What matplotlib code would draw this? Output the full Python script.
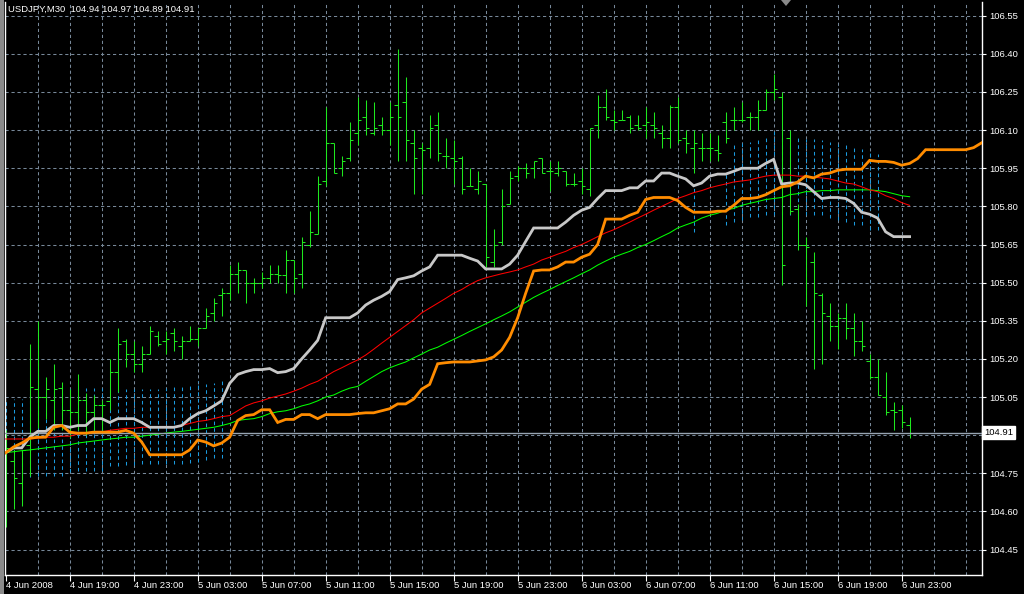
import matplotlib
matplotlib.use('Agg')
import matplotlib.pyplot as plt
from matplotlib.patches import Rectangle, Polygon

plt.rcParams['font.family'] = ['Liberation Sans', 'DejaVu Sans']
plt.rcParams['lines.scale_dashes'] = False

# USDJPY M30 bars, 4 Jun 2008 15:00 .. 6 Jun 2008 23:30
opens = [104.84, 104.80, 104.71, 104.86, 105.08, 105.05, 105.04, 105.085, 105.00, 104.99,
         105.04, 104.99, 105.02, 105.035, 105.15, 105.27, 105.22, 105.18, 105.22, 105.29,
         105.27, 105.30, 105.25, 105.27, 105.28, 105.32, 105.38, 105.45, 105.46, 105.535,
         105.55, 105.50, 105.50, 105.52, 105.535, 105.53, 105.59, 105.535, 105.65, 105.69,
         105.90, 106.05, 105.95, 105.99, 106.09, 106.15, 106.09, 106.12, 106.10, 106.20,
         106.21, 106.05, 106.03, 106.03, 106.12, 106.00, 105.99, 105.99, 105.88, 105.87,
         105.89, 105.58, 105.66, 105.81, 105.92, 105.95, 105.95, 105.99, 105.94, 105.93,
         105.94, 105.89, 105.90, 105.87, 106.12, 106.19, 106.14, 106.14, 106.15, 106.12,
         106.12, 106.12, 106.09, 106.07, 106.19, 106.07, 106.03, 106.03, 106.03, 106.02,
         106.13, 106.14, 106.14, 106.15, 106.15, 106.18, 106.25, 106.23, 106.07, 105.79,
         105.65, 105.58, 105.45, 105.37, 105.33, 105.36, 105.32, 105.27, 105.19, 105.13,
         105.05, 105.00, 105.00, 104.94]
highs = [104.92, 104.84, 104.84, 105.26, 105.35, 105.13, 105.18, 105.11, 105.08, 105.14,
         105.065, 105.06, 105.04, 105.20, 105.32, 105.28, 105.27, 105.25, 105.33, 105.31,
         105.31, 105.32, 105.29, 105.33, 105.32, 105.40, 105.44, 105.48, 105.57, 105.58,
         105.55, 105.52, 105.54, 105.57, 105.57, 105.63, 105.59, 105.68, 105.78, 105.92,
         106.19, 106.05, 106.00, 106.13, 106.23, 106.22, 106.21, 106.15, 106.21, 106.42,
         106.31, 106.10, 106.05, 106.16, 106.17, 106.07, 106.06, 106.00, 105.95, 105.94,
         105.89, 105.71, 105.87, 105.94, 105.96, 105.97, 105.98, 105.99, 105.98, 105.98,
         105.94, 105.93, 105.95, 106.11, 106.24, 106.26, 106.18, 106.18, 106.16, 106.16,
         106.19, 106.17, 106.12, 106.20, 106.23, 106.10, 106.10, 106.09, 106.09, 106.08,
         106.17, 106.19, 106.21, 106.17, 106.22, 106.26, 106.32, 106.25, 106.10, 105.81,
         105.68, 105.62, 105.46, 105.42, 105.38, 105.42, 105.38, 105.35, 105.22, 105.20,
         105.15, 105.03, 105.02, 104.97]
lows = [104.54, 104.61, 104.62, 104.74, 104.93, 104.965, 104.92, 104.92, 104.89, 104.92,
        104.90, 104.92, 104.92, 105.00, 105.07, 105.17, 105.15, 105.15, 105.22, 105.25,
        105.22, 105.23, 105.20, 105.27, 105.25, 105.32, 105.35, 105.37, 105.43, 105.46,
        105.42, 105.46, 105.48, 105.50, 105.50, 105.46, 105.46, 105.48, 105.64, 105.69,
        105.88, 105.93, 105.92, 105.98, 106.04, 106.08, 106.08, 106.08, 106.04, 105.98,
        105.98, 105.85, 105.85, 105.99, 105.98, 105.95, 105.89, 105.85, 105.88, 105.85,
        105.56, 105.56, 105.65, 105.81, 105.90, 105.91, 105.91, 105.93, 105.86, 105.92,
        105.88, 105.88, 105.85, 105.84, 106.07, 106.14, 106.10, 106.14, 106.09, 106.10,
        106.07, 106.07, 106.03, 106.03, 106.05, 106.01, 105.93, 105.98, 105.98, 105.98,
        106.05, 106.10, 106.13, 106.10, 106.10, 106.18, 106.22, 105.49, 105.77, 105.63,
        105.41, 105.16, 105.18, 105.27, 105.24, 105.28, 105.21, 105.23, 105.12, 105.06,
        104.98, 104.92, 104.93, 104.89]
closes = [104.85, 104.73, 104.84, 105.09, 105.05, 105.08, 105.08, 105.00, 104.99, 105.04,
          104.99, 105.02, 105.02, 105.15, 105.26, 105.22, 105.18, 105.22, 105.31, 105.26,
          105.28, 105.27, 105.27, 105.28, 105.32, 105.37, 105.42, 105.46, 105.535, 105.55,
          105.50, 105.50, 105.52, 105.535, 105.53, 105.59, 105.52, 105.66, 105.70, 105.89,
          106.05, 105.93, 105.98, 106.06, 106.14, 106.11, 106.11, 106.10, 106.15, 106.15,
          106.06, 105.99, 106.02, 106.11, 106.01, 106.00, 105.98, 105.87, 105.88, 105.90,
          105.60, 105.65, 105.80, 105.91, 105.95, 105.93, 105.98, 105.93, 105.94, 105.95,
          105.89, 105.89, 105.88, 106.11, 106.19, 106.15, 106.13, 106.14, 106.11, 106.11,
          106.13, 106.11, 106.07, 106.19, 106.06, 106.05, 106.05, 106.03, 106.03, 106.01,
          106.07, 106.14, 106.14, 106.15, 106.18, 106.25, 106.26, 105.57, 105.78, 105.65,
          105.64, 105.46, 105.38, 105.33, 105.36, 105.32, 105.27, 105.25, 105.13, 105.06,
          104.99, 104.99, 104.95, 104.91]

# silver line (kijun-like)
kijun = [104.831, 104.850, 104.850, 104.892, 104.915, 104.915, 104.938, 104.938, 104.931, 104.938,
         104.938, 104.965, 104.965, 104.950, 104.965, 104.965, 104.965, 104.950, 104.931, 104.931,
         104.931, 104.931, 104.938, 104.965, 104.985, 104.996, 105.015, 105.035, 105.104, 105.139,
         105.150, 105.158, 105.158, 105.162, 105.146, 105.150, 105.162, 105.200, 105.235, 105.273,
         105.362, 105.362, 105.362, 105.362, 105.381, 105.412, 105.431, 105.446, 105.465, 105.512,
         105.519, 105.527, 105.546, 105.562, 105.608, 105.608, 105.608, 105.608, 105.596, 105.585,
         105.554, 105.554, 105.554, 105.573, 105.608, 105.662, 105.715, 105.715, 105.715, 105.715,
         105.738, 105.765, 105.785, 105.796, 105.831, 105.862, 105.862, 105.862, 105.873, 105.873,
         105.900, 105.900, 105.931, 105.931, 105.919, 105.908, 105.881, 105.892, 105.919, 105.927,
         105.927, 105.938, 105.950, 105.950, 105.950, 105.969, 105.985, 105.888, 105.892, 105.892,
         105.885, 105.858, 105.831, 105.835, 105.835, 105.831, 105.812, 105.777, 105.769, 105.754,
         105.700, 105.681, 105.681, 105.681]
# orange line, runs 9 bars past the last candle
senkou = [104.831, 104.854, 104.869, 104.888, 104.892, 104.892, 104.931, 104.938, 104.912, 104.908,
          104.908, 104.912, 104.912, 104.912, 104.912, 104.919, 104.908, 104.873, 104.823, 104.823,
          104.823, 104.823, 104.823, 104.842, 104.881, 104.873, 104.858, 104.869, 104.892, 104.958,
          104.977, 104.981, 105.000, 105.000, 104.950, 104.962, 104.962, 104.981, 104.981, 104.965,
          104.981, 104.981, 104.981, 104.981, 104.985, 104.988, 104.988, 104.996, 105.004, 105.023,
          105.023, 105.042, 105.081, 105.100, 105.181, 105.185, 105.188, 105.188, 105.188, 105.192,
          105.196, 105.208, 105.235, 105.285, 105.362, 105.458, 105.546, 105.550, 105.550, 105.562,
          105.581, 105.581, 105.600, 105.612, 105.650, 105.750, 105.750, 105.750, 105.765, 105.777,
          105.827, 105.835, 105.835, 105.835, 105.823, 105.796, 105.777, 105.777, 105.777, 105.781,
          105.781, 105.804, 105.831, 105.831, 105.835, 105.846, 105.862, 105.877, 105.881, 105.896,
          105.919, 105.912, 105.927, 105.931, 105.942, 105.946, 105.946, 105.946, 105.981, 105.977,
          105.977, 105.973, 105.962, 105.969, 105.988, 106.023, 106.023, 106.023, 106.023, 106.023,
          106.023, 106.031, 106.050]
ma_red = [104.885, 104.885, 104.885, 104.885, 104.888, 104.892, 104.892, 104.896, 104.896, 104.904,
          104.908, 104.908, 104.912, 104.919, 104.923, 104.927, 104.927, 104.931, 104.931, 104.931,
          104.931, 104.931, 104.938, 104.946, 104.954, 104.958, 104.965, 104.973, 104.977, 104.996,
          105.015, 105.027, 105.035, 105.046, 105.054, 105.062, 105.073, 105.085, 105.100, 105.112,
          105.131, 105.150, 105.165, 105.181, 105.196, 105.215, 105.238, 105.262, 105.285, 105.308,
          105.331, 105.354, 105.381, 105.400, 105.419, 105.438, 105.458, 105.473, 105.492, 105.508,
          105.519, 105.527, 105.535, 105.542, 105.550, 105.562, 105.573, 105.589, 105.600, 105.612,
          105.623, 105.638, 105.650, 105.665, 105.681, 105.696, 105.708, 105.723, 105.738, 105.754,
          105.769, 105.785, 105.800, 105.815, 105.831, 105.842, 105.854, 105.862, 105.873, 105.881,
          105.888, 105.896, 105.900, 105.904, 105.912, 105.919, 105.923, 105.923, 105.923, 105.919,
          105.919, 105.915, 105.912, 105.908, 105.900, 105.892, 105.888, 105.877, 105.865, 105.858,
          105.842, 105.831, 105.815, 105.804]
ma_green = [104.831, 104.835, 104.839, 104.842, 104.846, 104.850, 104.854, 104.858, 104.862, 104.869,
            104.873, 104.877, 104.881, 104.885, 104.888, 104.892, 104.892, 104.896, 104.900, 104.904,
            104.908, 104.912, 104.915, 104.919, 104.923, 104.927, 104.931, 104.938, 104.946, 104.958,
            104.962, 104.965, 104.973, 104.985, 104.992, 104.996, 105.004, 105.015, 105.023, 105.035,
            105.050, 105.058, 105.073, 105.085, 105.092, 105.112, 105.131, 105.150, 105.165, 105.177,
            105.188, 105.204, 105.219, 105.235, 105.246, 105.262, 105.277, 105.292, 105.308, 105.323,
            105.338, 105.354, 105.369, 105.385, 105.404, 105.423, 105.442, 105.458, 105.473, 105.489,
            105.504, 105.519, 105.535, 105.550, 105.569, 105.585, 105.600, 105.612, 105.623, 105.638,
            105.650, 105.665, 105.681, 105.696, 105.715, 105.727, 105.738, 105.754, 105.765, 105.773,
            105.785, 105.792, 105.804, 105.812, 105.819, 105.827, 105.831, 105.835, 105.846, 105.850,
            105.858, 105.858, 105.862, 105.862, 105.865, 105.865, 105.865, 105.865, 105.865, 105.862,
            105.858, 105.850, 105.842, 105.838]

# blue dotted cloud bars: bar index, upper and lower edge
cloud_idx = list(range(0, 28)) + [86] + list(range(90, 110))
cloud_top = [105.042, 105.042, 105.042, 105.080, 105.080, 105.080, 105.085, 105.085, 105.085, 105.085,
             105.085, 105.085, 105.085, 105.085, 105.085, 105.080, 105.080, 105.080, 105.080, 105.080,
             105.085, 105.092, 105.092, 105.092, 105.112, 105.100, 105.104, 105.115,
             105.880,
             105.927, 106.040, 106.050, 106.054, 106.062, 106.080, 106.100, 106.104, 106.100, 106.073,
             106.065, 106.065, 106.062, 106.054, 106.046, 106.042, 106.035, 106.027, 106.023, 106.008]
cloud_bot = [104.835, 104.750, 104.750, 104.735, 104.740, 104.740, 104.740, 104.740, 104.754, 104.758,
             104.758, 104.758, 104.758, 104.777, 104.777, 104.781, 104.781, 104.785, 104.785, 104.785,
             104.785, 104.785, 104.785, 104.792, 104.796, 104.804, 104.811, 104.811,
             105.700,
             105.727, 105.738, 105.746, 105.758, 105.758, 105.765, 105.765, 105.765, 105.765, 105.765,
             105.765, 105.765, 105.765, 105.754, 105.746, 105.738, 105.727, 105.727, 105.708, 105.708]

time_labels = ['4 Jun 2008', '4 Jun 19:00', '4 Jun 23:00', '5 Jun 03:00', '5 Jun 07:00',
               '5 Jun 11:00', '5 Jun 15:00', '5 Jun 19:00', '5 Jun 23:00', '6 Jun 03:00',
               '6 Jun 07:00', '6 Jun 11:00', '6 Jun 15:00', '6 Jun 19:00', '6 Jun 23:00']
price_ticks = [104.45, 104.60, 104.75, 104.90, 105.05, 105.20, 105.35, 105.50, 105.65,
               105.80, 105.95, 106.10, 106.25, 106.40, 106.55]
last_price = 104.91
title = 'USDJPY,M30  104.94 104.97 104.89 104.91'

GRID = '#778899'
BAR = '#1ee81e'
FS = 6.8

fig = plt.figure(figsize=(10.24, 5.94), dpi=100, facecolor='black')
fig.patches.append(Rectangle((0, 0), 3.5 / 1024, 1, transform=fig.transFigure,
                             facecolor='#8a8a8a', edgecolor='none'))
ax = fig.add_axes([4.5 / 1024, 19 / 594, 977.5 / 1024, 573 / 594], facecolor='black')
ax.set_xlim(-0.15, 122.05)
ax.set_ylim(104.35, 106.604)

# grid
for p in price_ticks:
    ax.axhline(p, color=GRID, lw=0.75, dashes=(2.3, 2.0), zorder=0.5)
for k in range(4, 121, 4):
    ax.axvline(k, color=GRID, lw=0.75, dashes=(2.3, 2.0), zorder=0.5)

# cloud
ax.vlines(cloud_idx, cloud_bot, cloud_top, color='#1b9be0', lw=0.75,
          linestyles=(0, (2.6, 2.2)), zorder=1)

# OHLC bars
n = len(opens)
xs = list(range(n))
ax.vlines(xs, lows, highs, color=BAR, lw=0.75, zorder=2)
ax.hlines(opens, [x - 0.4 for x in xs], xs, color=BAR, lw=0.75, zorder=2)
ax.hlines(closes, xs, [x + 0.4 for x in xs], color=BAR, lw=0.75, zorder=2)

# indicator lines
ax.plot(range(len(ma_green)), ma_green, color='#00ff00', lw=0.75, zorder=3)
ax.plot(range(len(ma_red)), ma_red, color='#ff0000', lw=0.75, zorder=3)
ax.plot(range(len(kijun)), kijun, color='#c8c8c8', lw=2.0, zorder=4,
        solid_joinstyle='miter')
ax.plot(range(len(senkou)), senkou, color='#ff8c00', lw=2.0, zorder=4,
        solid_joinstyle='miter')

# current price line
ax.axhline(last_price, color='#97a4b2', lw=1.0, zorder=3.5)

# axes styling
for side in ['left', 'right', 'bottom']:
    ax.spines[side].set_color('white')
    ax.spines[side].set_linewidth(1.0)
ax.spines['top'].set_visible(False)

# the 104.90 label sits under the last-price tag, as in the terminal
ax.yaxis.tick_right()
ax.set_yticks(price_ticks)
ax.set_yticklabels(['' if abs(p - 104.90) < 1e-6 else '%.2f' % p for p in price_ticks])
ax.tick_params(axis='y', colors='white', length=3, width=0.8, pad=2.0, labelsize=FS)

ax.set_xticks(list(range(0, n, 8)))
ax.set_xticklabels(time_labels, ha='left')
ax.tick_params(axis='x', colors='white', length=4, width=0.8, pad=0.5, labelsize=FS)

ax.text(0.0034, 0.995, title, transform=ax.transAxes, color='white', fontsize=FS,
        ha='left', va='top')

# price tag for the last close
ax.text(1.0022, last_price, '%.2f' % last_price, transform=ax.get_yaxis_transform(),
        color='black', fontsize=FS, ha='left', va='center', zorder=10, clip_on=False,
        bbox=dict(boxstyle='square,pad=0.2', facecolor='white', edgecolor='white'))

# chart shift marker at the top
fig.patches.append(Polygon([(781 / 1024, 1.0), (791 / 1024, 1.0), (786 / 1024, 1 - 6 / 594)],
                           closed=True, transform=fig.transFigure,
                           facecolor='#8a8a8a', edgecolor='none'))

fig.savefig('out.png', dpi=100, facecolor='black')
